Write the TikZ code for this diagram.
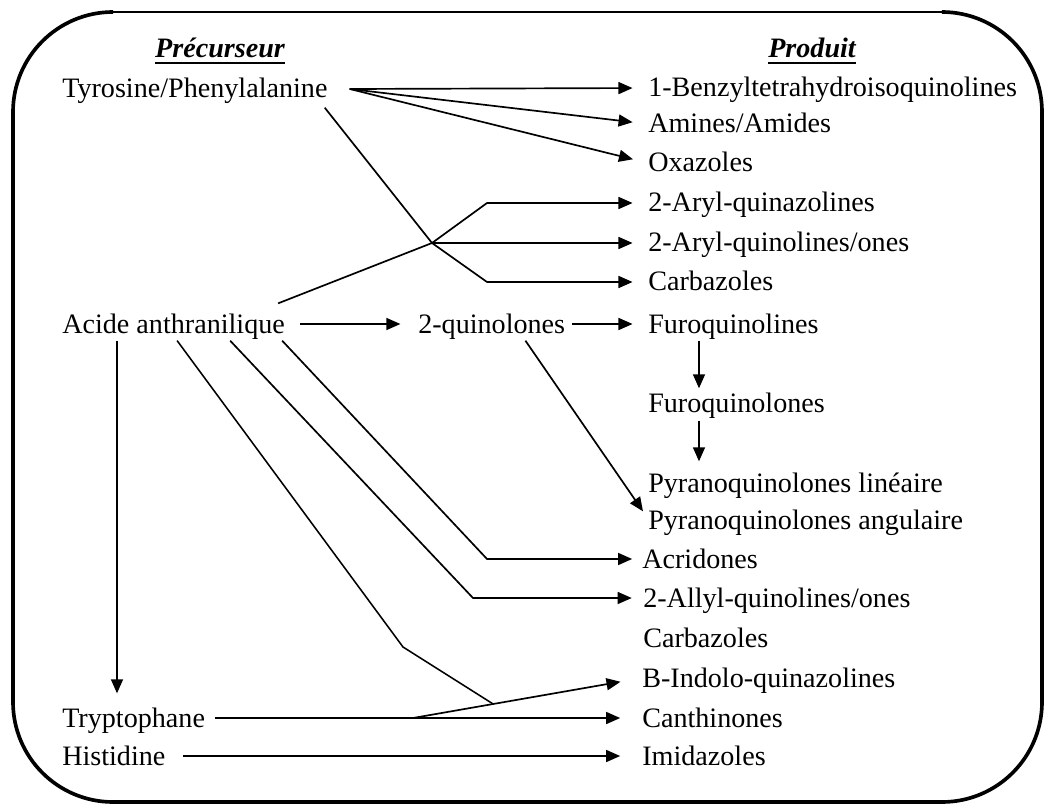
\documentclass[tikz,border=0pt]{standalone}
\usepackage{fontspec}
\setmainfont{Liberation Serif}
\usetikzlibrary{arrows.meta,calc}

\newcommand{\ulhead}[1]{\setbox0\hbox{\bfseries\itshape #1}\rlap{\rule[-4.5pt]{\wd0}{2pt}}\box0}

\tikzset{
  lbl/.style={anchor=base west,inner sep=0pt,text height=15.2pt,text depth=2.4pt,font=\fontsize{20}{24}\selectfont},
  hdr/.style={anchor=base,inner sep=0pt,font=\fontsize{20}{24}\selectfont},
  flow/.style={->,>={Triangle[length=10pt,width=8.5pt]},line width=1.2pt},
  link/.style={line width=1.1pt},
  frame/.style={line width=2.6pt}
}

\begin{document}
\begin{tikzpicture}[x=0.025cm,y=-0.025cm]
\useasboundingbox (0,0) rectangle (1044,806);
% frame
\draw[frame,rounded corners=2.5cm] (113,12) -| (13,802) -| (1042,12) -- (942,12);
\draw[line width=1.3pt] (113,12) -- (942,12);

% headers
\node[hdr] (prec) at (220,58) {\ulhead{Précurseur}};
\node[hdr] (prod) at (812,58) {\ulhead{Produit}};

% precursors
\node[lbl] (tyr) at (62,98) {Tyrosine/Phenylalanine};
\node[lbl] (acide) at (62,333) {Acide anthranilique};
\node[lbl] (quin) at (418,333) {2-quinolones};
\node[lbl] (trypt) at (62,727) {Tryptophane};
\node[lbl] (hist) at (62,765) {Histidine};

% products
\node[lbl] (benz) at (648,97) {1-Benzyltetrahydroisoquinolines};
\node[lbl] (amin) at (648,133) {Amines/Amides};
\node[lbl] (oxaz) at (648,172) {Oxazoles};
\node[lbl] (arquin) at (648,212) {2-Aryl-quinazolines};
\node[lbl] (arquol) at (648,252) {2-Aryl-quinolines/ones};
\node[lbl] (carbA) at (648,291) {Carbazoles};
\node[lbl] (furol) at (648,333) {Furoquinolines};
\node[lbl] (furone) at (648,412) {Furoquinolones};
\node[lbl] (pylin) at (648,492) {Pyranoquinolones linéaire};
\node[lbl] (pyang) at (648,529) {Pyranoquinolones angulaire};
\node[lbl] (acrid) at (642,568) {Acridones};
\node[lbl] (allyl) at (643,607) {2-Allyl-quinolines/ones};
\node[lbl] (carbB) at (643,647) {Carbazoles};
\node[lbl] (indolo) at (642,687) {B-Indolo-quinazolines};
\node[lbl] (canth) at (642,727) {Canthinones};
\node[lbl] (imid) at (642,765) {Imidazoles};

% named points
\coordinate (tyrfan) at ([shift={(22,0)}]tyr.east);
\coordinate (hub) at (432,0 |- arquol.west);
\coordinate (branch) at (413,0 |- trypt.east);
\coordinate (kink) at (403,647);

% Tyrosine/Phenylalanine
\draw[flow,shorten >=11pt] (tyrfan) -- (benz.west);
\draw[flow,shorten >=11pt] (tyrfan) -- (amin.west);
\draw[flow,shorten >=11pt] (tyrfan) -- (oxaz.west);
\draw[flow,shorten >=11pt] ([shift={(-3,6)}]tyr.south east) -- (hub) -- (487,0 |- carbA.west) -- (carbA.west);

% Acide anthranilique
\draw[flow,shorten >=11pt] ([shift={(-7,-8)}]acide.north east) -- (hub) -- (487,0 |- arquin.west) -- (arquin.west);
\draw[flow,shorten >=11pt] (hub) -- (arquol.west);
\draw[flow,shorten <=10.5pt,shorten >=12.5pt] (acide.east) -- (quin.west);
\draw[flow,shorten <=5pt,shorten >=11pt] (quin.east) -- (furol.west);
\draw[flow] ([shift={(-40,4)}]quin.south east) -- ([shift={(-5,4)}]pyang.north west);
\draw[flow] ([shift={(51,4)}]furol.south west) -- ([shift={(51,-2)}]furone.north west);
\draw[flow] ([shift={(51,5)}]furone.south west) -- ([shift={(51,-9)}]pylin.north west);
\draw[flow] ([shift={(55,4)}]acide.south west) -- ([shift={(55,-12)}]trypt.north west);
\draw[flow,shorten >=7pt] ([shift={(-3,4)}]acide.south east) -- (487,0 |- acrid.west) -- (acrid.west);
\draw[flow,shorten >=8pt] ([shift={(-55,4)}]acide.south east) -- (473,0 |- allyl.west) -- (allyl.west);
\draw[link] ([shift={(-108,4)}]acide.south east) -- (kink) -- ($(branch)!.35!(indolo.west)$);

% Tryptophane, Histidine
\draw[flow,shorten <=7pt,shorten >=15.5pt] (trypt.east) -- (canth.west);
\draw[flow,shorten >=15.5pt] (branch) -- (indolo.west);
\draw[flow,shorten <=12.5pt,shorten >=15.5pt] (hist.east) -- (imid.west);
\end{tikzpicture}
\end{document}
